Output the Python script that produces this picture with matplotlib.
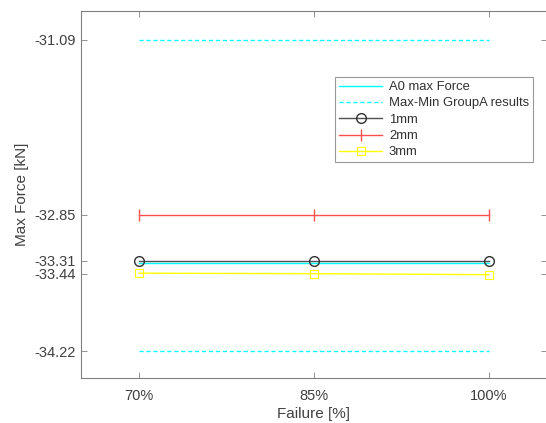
import matplotlib
matplotlib.use("Agg")
import matplotlib.pyplot as plt

plt.rcParams['font.family'] = ['Liberation Sans', 'DejaVu Sans']

# data
failure = [70, 85, 100]
tick_labels = ['70%', '85%', '100%']
a0_force = [-33.335, -33.335, -33.335]
group_max = [-31.09, -31.09, -31.09]
group_min = [-34.22, -34.22, -34.22]
f_1mm = [-33.31, -33.31, -33.31]
f_2mm = [-32.85, -32.85, -32.85]
f_3mm = [-33.435, -33.44, -33.45]
yticks = [-34.22, -33.44, -33.31, -32.85, -31.09]

fig = plt.figure(figsize=(5.46, 4.23), dpi=100)
ax = fig.add_axes([0.148, 0.106, 0.854, 0.868])

ax.plot(failure, a0_force, color='#00FFFF', lw=1, label='A0 max Force')
ax.plot(failure, group_max, color='#00FFFF', lw=1, ls='--', dashes=(3, 2), label='Max-Min GroupA results')
ax.plot(failure, group_min, color='#00FFFF', lw=1, ls='--', dashes=(3, 2))
ax.plot(failure, f_1mm, color='#505050', lw=1, marker='o', ms=7, mfc='none', mec='#303030', label='1mm')
ax.plot(failure, f_2mm, color='#FF5050', lw=1, marker='|', ms=8, mew=1, label='2mm')
ax.plot(failure, f_3mm, color='#FFFF00', lw=1, marker='s', ms=6, mfc='none', mew=0.8, label='3mm')

ax.set_xlim(65, 105)
ax.set_ylim(-34.49, -30.80)
ax.set_xticks(failure)
ax.set_xticklabels(tick_labels)
ax.set_yticks(yticks)
ax.set_yticklabels(['%.2f' % v for v in yticks])

for s in ax.spines.values():
    s.set_color('#808080')
    s.set_linewidth(0.8)
ax.tick_params(direction='in', length=4, width=0.6, color='#808080', labelcolor='#404040',
               labelsize=10.5, top=True, right=True)
ax.tick_params(axis='x', pad=8)
ax.set_xlabel('Failure [%]', fontsize=11, color='#404040', labelpad=3)
ax.set_ylabel('Max Force [kN]', fontsize=11, color='#404040', labelpad=4)

leg = ax.legend(loc='upper left', bbox_to_anchor=(0.546, 0.82), fontsize=9.4, frameon=True,
                fancybox=False, edgecolor='#808080', handlelength=3.3, borderpad=0.3,
                labelspacing=0.32, handletextpad=0.5, borderaxespad=0)
leg.get_frame().set_linewidth(0.8)
for t in leg.get_texts():
    t.set_color('#303030')

fig.savefig('out.png', dpi=100)
